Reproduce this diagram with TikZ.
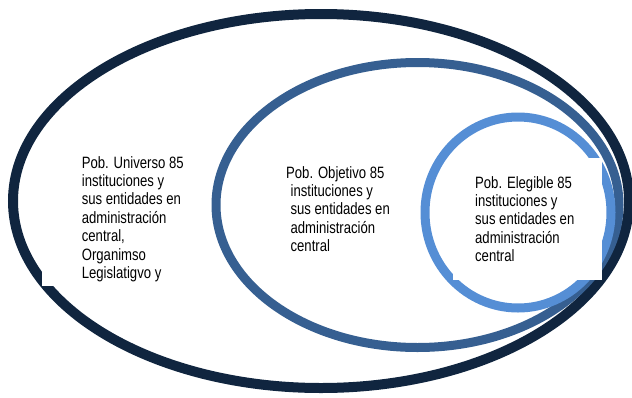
\documentclass[tikz,border=0pt]{standalone}
\usepackage{fontspec}
\setmainfont{Liberation Sans}
\definecolor{ringA}{HTML}{10253F}
\definecolor{ringB}{HTML}{365F91}
\definecolor{ringC}{HTML}{558ED5}
\tikzset{
  ring/.style={line width=#1},
  lbl/.style={anchor=base west, inner sep=0pt, xscale=0.8, transform shape,
    font=\fontsize{16.4}{18.4}\selectfont},
  blank/.style={fill=white, draw=none}
}
\begin{document}
\begin{tikzpicture}[x=1pt, y=-1pt]
\useasboundingbox (0,0) rectangle (632,397);
% outer ring
\draw[ring=10pt, ringA] (321,201) ellipse [x radius=308, y radius=187];
% universo text box
\path[blank] (41.5,145) rectangle (205,285.5);
\begin{scope}
\clip (41.5,145) rectangle (205,281.5);
\node[lbl] (uni) at (81.7,168) {\begin{tabular}[t]{@{}l@{}}Pob. Universo 85\\instituciones y\\sus entidades en\\administración\\central,\\Organimso\\Legislatigvo y\end{tabular}};
\end{scope}
% middle ring
\draw[ring=9pt, ringB] (417.5,205) ellipse [x radius=201.5, y radius=142.5];
\node[lbl] (obj) at (286,178) {\begin{tabular}[t]{@{}l@{}}Pob. Objetivo 85\\\hspace{5.6pt}instituciones y\\\hspace{5.6pt}sus entidades en\\\hspace{5.6pt}administración\\\hspace{5.6pt}central\end{tabular}};
% inner ring
\draw[ring=9pt, ringC] (518,212.5) ellipse [x radius=93, y radius=95.5];
\path[blank] (453.3,158) rectangle (601.7,280);
\node[lbl] (ele) at (475,188) {\begin{tabular}[t]{@{}l@{}}Pob. Elegible 85\\instituciones y\\sus entidades en\\administración\\central\end{tabular}};
\end{tikzpicture}
\end{document}
